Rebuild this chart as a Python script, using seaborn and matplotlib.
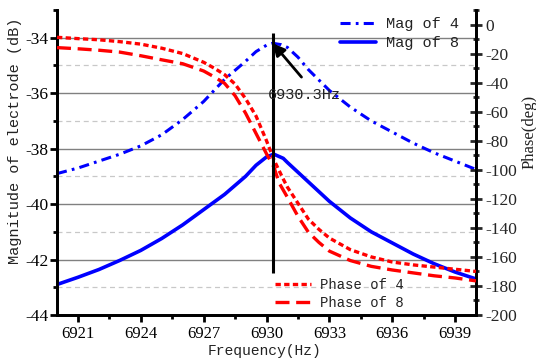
import matplotlib
matplotlib.use("Agg")
import matplotlib.pyplot as plt
from matplotlib.ticker import MultipleLocator
import pandas as pd
import seaborn as sns

# ---------------- data ----------------
freq_mag4 = [6920, 6921, 6922, 6923, 6924, 6925, 6926, 6927, 6928, 6929, 6929.5,
             6930, 6930.3, 6930.7, 6931, 6931.5, 6932, 6933, 6934, 6935, 6936,
             6937, 6938, 6939, 6940]
mag4 = [-38.9, -38.7, -38.45, -38.2, -37.9, -37.5, -36.95, -36.3, -35.5, -34.85, -34.5,
        -34.27, -34.2, -34.25, -34.35, -34.7, -35.15, -35.9, -36.5, -37.0, -37.4,
        -37.8, -38.15, -38.45, -38.75]

freq_mag8 = [6920, 6921, 6922, 6923, 6924, 6925, 6926, 6927, 6928, 6929, 6929.5,
             6930, 6930.35, 6930.8, 6931, 6931.5, 6932, 6933, 6934, 6935, 6936,
             6937, 6938, 6939, 6940]
mag8 = [-42.9, -42.64, -42.36, -42.03, -41.67, -41.24, -40.75, -40.2, -39.65, -39.0, -38.6,
        -38.3, -38.2, -38.35, -38.5, -38.85, -39.2, -39.9, -40.5, -41.0, -41.4,
        -41.8, -42.15, -42.45, -42.7]

freq_ph4 = [6920, 6921, 6922, 6923, 6924, 6925, 6926, 6927, 6927.5, 6928, 6928.5,
            6929, 6929.5, 6930, 6930.35, 6930.75, 6931, 6931.5, 6932, 6932.5, 6933,
            6934, 6935, 6936, 6937, 6938, 6939, 6940]
phase4 = [-8.8, -9.7, -10.5, -11.8, -13.5, -16.3, -20.0, -26.0, -30.0, -34.5, -41.0,
          -51.0, -63.0, -80.0, -93.0, -105.0, -112.0, -123.0, -134.0, -141.0, -147.0,
          -155.0, -160.0, -163.5, -165.5, -167.0, -168.5, -170.0]

freq_ph8 = [6920, 6921, 6922, 6923, 6924, 6925, 6926, 6927, 6927.5, 6928, 6928.5,
            6929, 6929.5, 6930, 6930.35, 6930.6, 6931, 6931.5, 6932, 6932.5, 6933,
            6934, 6935, 6936, 6937, 6938, 6939, 6940]
phase8 = [-15.9, -16.7, -17.7, -19.0, -21.5, -24.3, -27.0, -32.0, -36.0, -40.5, -49.0,
          -61.0, -75.0, -89.0, -98.0, -109.0, -119.0, -132.0, -143.0, -150.0, -156.0,
          -162.5, -166.5, -169.0, -171.0, -173.0, -174.5, -176.5]

peak_freq = 6930.3
peak_mag = -34.2
marker_top, marker_bottom = -33.83, -42.5
arrow_tail = (6931.67, -35.42)
label_pos = (6930.05, -36.07)
peak_label = "6930.3Hz"

labels_mag = ["Mag of 4", "Mag of 8"]
labels_ph = ["Phase of 4", "Phase of 8"]

df_m4 = pd.DataFrame({"f": freq_mag4, "v": mag4})
df_m8 = pd.DataFrame({"f": freq_mag8, "v": mag8})
df_p4 = pd.DataFrame({"f": freq_ph4, "v": phase4})
df_p8 = pd.DataFrame({"f": freq_ph8, "v": phase8})

# ---------------- style ----------------
sns.set_theme(style="white")
plt.rcParams["font.family"] = ["Liberation Serif", "DejaVu Serif"]
plt.rcParams["axes.unicode_minus"] = False

BLUE = "#0000FF"
RED = "#FF0000"
LW = 2.2
MONO = ["Liberation Mono", "DejaVu Sans Mono"]

fig = plt.figure(figsize=(5.36, 3.64), dpi=100)
ax = fig.add_axes([57 / 536, 1 - 315 / 364, (476 - 57) / 536, (315 - 10) / 364])
ax2 = ax.twinx()

# magnitude (left axis)
sns.lineplot(data=df_m4, x="f", y="v", ax=ax, color=BLUE, lw=LW,
             linestyle=(0, (3.3, 1.7, 0.9, 1.7)), zorder=3)
l_m4 = ax.lines[-1]
sns.lineplot(data=df_m8, x="f", y="v", ax=ax, color=BLUE, lw=LW + 0.4,
             linestyle="-", zorder=3)
l_m8 = ax.lines[-1]

# phase (right axis)
sns.lineplot(data=df_p4, x="f", y="v", ax=ax2, color=RED, lw=LW + 0.2,
             linestyle=(0, (1.6, 1.0)), zorder=3)
l_p4 = ax2.lines[-1]
sns.lineplot(data=df_p8, x="f", y="v", ax=ax2, color=RED, lw=LW + 0.2,
             linestyle=(0, (4.2, 2.0)), zorder=3)
l_p8 = ax2.lines[-1]

# limits
ax.set_xlim(6920, 6940)
ax.set_ylim(-44, -33)
ax2.set_ylim(-200, 10)

# grid on left axis
for v in range(-42, -33, 2):
    ax.axhline(v, color="#808080", lw=1.0, zorder=1)
for v in range(-43, -34, 2):
    ax.axhline(v, color="#c8c8c8", lw=0.9, ls=(0, (4, 3)), zorder=1)

# vertical marker and annotation (drawn on top axes, in left-axis data units)
ax2.plot([peak_freq, peak_freq], [marker_top, marker_bottom], color="black",
         lw=2.2, transform=ax.transData, zorder=5, solid_capstyle="butt")
ax2.annotate("", xy=(peak_freq, peak_mag), xycoords=ax.transData,
             xytext=arrow_tail, textcoords=ax.transData,
             arrowprops=dict(arrowstyle="-|>,head_length=0.6,head_width=0.3",
                             color="black", lw=2.0, shrinkA=0, shrinkB=0),
             zorder=6)
ax2.text(label_pos[0], label_pos[1], peak_label, transform=ax.transData,
         ha="left", va="center", fontsize=11, family=MONO, color="#222222",
         zorder=6)

# ticks
ax.set_xticks([6921, 6924, 6927, 6930, 6933, 6936, 6939])
ax.xaxis.set_minor_locator(MultipleLocator(1.5))
ax.yaxis.set_major_locator(MultipleLocator(2))
ax.yaxis.set_minor_locator(MultipleLocator(1))
ax2.yaxis.set_major_locator(MultipleLocator(20))
ax2.yaxis.set_minor_locator(MultipleLocator(10))

for a in (ax, ax2):
    for s in a.spines.values():
        s.set_linewidth(2.0)
        s.set_color("black")
    a.spines["top"].set_visible(False)

ax.tick_params(axis="both", which="major", direction="out", length=5, width=2,
               color="black", labelcolor="black", pad=1)
ax.tick_params(axis="both", which="minor", direction="out", length=3, width=2,
               color="black")
ax.tick_params(axis="x", labelsize=12, pad=3)
ax.tick_params(axis="y", labelsize=12.5, left=True, which="both")
ax.tick_params(axis="x", bottom=True, which="both")
ax2.tick_params(axis="y", which="major", direction="inout", length=8, width=2,
                labelsize=12.5, pad=3, right=True)
ax2.tick_params(axis="y", which="minor", direction="inout", length=5, width=2,
                right=True)

# labels
ax.set_xlabel("Frequency(Hz)", family=MONO, fontsize=10.5, color="#222222")
ax.xaxis.set_label_coords(0.496, -0.095)
ax.set_ylabel("Magnitude of electrode (dB)", family=MONO, fontsize=11,
              color="#222222")
ax.yaxis.set_label_coords(-0.083, 0.57)
ax2.set_ylabel("Phase(deg)", fontsize=12, color="#222222")
ax2.yaxis.set_label_coords(1.108, 0.6)

# legends
leg1 = ax2.legend([l_m4, l_m8], labels_mag, loc="upper left",
                  bbox_to_anchor=((340 - 57) / 419, (315 - 17) / 305),
                  frameon=False, borderpad=0, borderaxespad=0,
                  handlelength=2.35, handletextpad=0.65, labelspacing=0.35,
                  prop={"family": MONO, "size": 11})
ax2.add_artist(leg1)
leg2 = ax2.legend([l_p4, l_p8], labels_ph, loc="upper left",
                  bbox_to_anchor=((275 - 57) / 419, (315 - 278) / 305),
                  frameon=False, borderpad=0, borderaxespad=0,
                  handlelength=2.6, handletextpad=0.65, labelspacing=0.3,
                  prop={"family": MONO, "size": 10})
for lg in (leg1, leg2):
    for t in lg.get_texts():
        t.set_color("#222222")

fig.savefig("out.png", dpi=100)
